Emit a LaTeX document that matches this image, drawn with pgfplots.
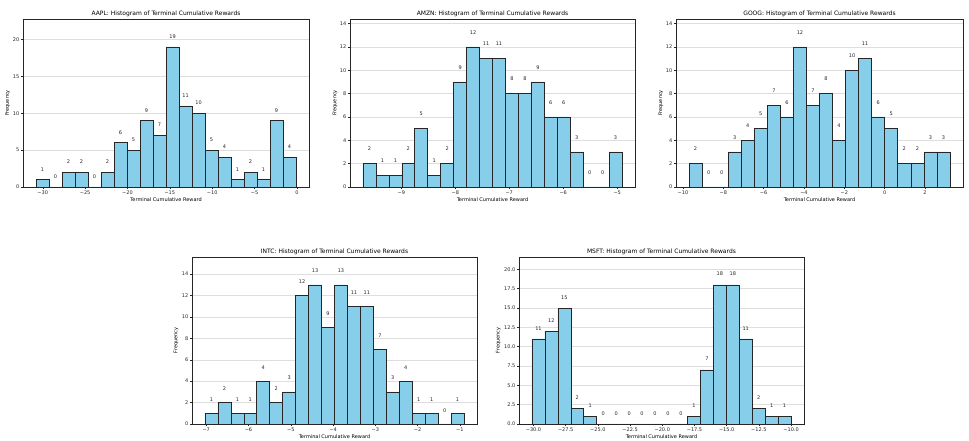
\documentclass[border=0pt]{standalone}
\usepackage{pgfplots}
\usepackage{pgfplotstable}
\pgfplotsset{compat=1.18}
\usepackage{fontspec}
\setmainfont{DejaVu Sans}
\definecolor{skyblue}{HTML}{87CEEB}

\pgfplotstableread{
x y
-30.800 1
-29.265 0
-27.730 2
-26.195 2
-24.660 0
-23.125 2
-21.590 6
-20.055 5
-18.520 9
-16.985 7
-15.450 19
-13.915 11
-12.380 10
-10.845 5
-9.310 4
-7.775 1
-6.240 2
-4.705 1
-3.170 9
-1.635 4
-0.100 4
}\aapl

\pgfplotstableread{
x y
-9.71 2
-9.47 1
-9.23 1
-8.99 2
-8.75 5
-8.51 1
-8.27 2
-8.03 9
-7.79 12
-7.55 11
-7.31 11
-7.07 8
-6.83 8
-6.59 9
-6.35 6
-6.11 6
-5.87 3
-5.63 0
-5.39 0
-5.15 3
-4.91 3
}\amzn

\pgfplotstableread{
x y
-9.700 2
-9.053 0
-8.406 0
-7.759 3
-7.112 4
-6.465 5
-5.818 7
-5.171 6
-4.524 12
-3.877 7
-3.230 8
-2.583 4
-1.936 10
-1.289 11
-0.642 6
0.005 5
0.652 2
1.299 2
1.946 3
2.593 3
3.240 3
}\goog

\pgfplotstableread{
x y
-7.0300 1
-6.7235 2
-6.4170 1
-6.1105 1
-5.8040 4
-5.4975 2
-5.1910 3
-4.8845 12
-4.5780 13
-4.2715 9
-3.9650 13
-3.6585 11
-3.3520 11
-3.0455 7
-2.7390 3
-2.4325 4
-2.1260 1
-1.8195 1
-1.5130 0
-1.2065 1
-0.9000 1
}\intc

\pgfplotstableread{
x y
-30.120 11
-29.114 12
-28.108 15
-27.102 2
-26.096 1
-25.090 0
-24.084 0
-23.078 0
-22.072 0
-21.066 0
-20.060 0
-19.054 0
-18.048 1
-17.042 7
-16.036 18
-15.030 18
-14.024 11
-13.018 2
-12.012 1
-11.006 1
-10.000 1
}\msft

\pgfplotsset{
  histo/.style={
    scale only axis, anchor=south west,
    axis line style={line width=0.4pt, black!85},
    tick style={line width=0.4pt, black!85},
    tick align=outside, major tick length=1.75pt,
    xtick pos=bottom, ytick pos=left,
    ymajorgrids, grid style={line width=0.5pt, black!13},
    ymin=0, clip=false,
    tick label style={font=\fontsize{5}{6}\selectfont, text=black!85},
    xticklabel style={anchor=north, inner sep=0pt, yshift=-1.75pt},
    yticklabel style={anchor=east, inner sep=0pt, xshift=-1.75pt},
    label style={font=\fontsize{5}{6}\selectfont},
    every axis title shift=0pt,
    title style={font=\fontsize{6}{7}\selectfont, at={([yshift=3pt]axis description cs:0.5,1)}, anchor=base},
    xlabel style={at={([yshift=-15pt]axis description cs:0.5,0)}, anchor=base},
    xlabel={Terminal Cumulative Reward},
    ylabel={Frequency},
  },
  bars/.style={ybar interval, fill=skyblue, draw=black!85, line width=0.6pt},
  labs/.style={only marks, mark=*, mark size=0pt, mark options={draw=none, fill=none},
    nodes near coords, point meta=explicit symbolic,
    skip coords between index={20}{21},
    nodes near coords style={anchor=base, inner sep=0pt, yshift=1.2pt, text=black!85, font=\fontsize{5}{6}\selectfont}},
}

\begin{document}
\begin{tikzpicture}
\path[use as bounding box] (0,0) rectangle (969pt,441pt);

% AAPL
\begin{axis}[histo, at={(23pt,254pt)}, width=286pt, height=168pt,
  title={AAPL: Histogram of Terminal Cumulative Rewards},
  ylabel style={at={([xshift=-15.5pt]axis description cs:0,0.5)}, anchor=center},
  xmin=-32.335, xmax=1.435, ymax=22.8,
  xtick={-30,-25,-20,-15,-10,-5,0},
  xticklabels={−30,−25,−20,−15,−10,−5,0},
  ytick={0,5,10,15,20}, yticklabels={0,5,10,15,20}]
\addplot[bars] table {\aapl};
\addplot[labs] table[x expr=\thisrow{x}+0.7675, y expr=\thisrow{y}+1, meta=y] {\aapl};
\end{axis}

% AMZN
\begin{axis}[histo, at={(350pt,254pt)}, width=285pt, height=168pt,
  title={AMZN: Histogram of Terminal Cumulative Rewards},
  ylabel style={at={([xshift=-15pt]axis description cs:0,0.5)}, anchor=center},
  xmin=-9.95, xmax=-4.67, ymax=14.4,
  xtick={-9,-8,-7,-6,-5},
  xticklabels={−9,−8,−7,−6,−5},
  ytick={0,2,4,6,8,10,12,14}, yticklabels={0,2,4,6,8,10,12,14}]
\addplot[bars] table {\amzn};
\addplot[labs] table[x expr=\thisrow{x}+0.12, y expr=\thisrow{y}+1, meta=y] {\amzn};
\end{axis}

% GOOG
\begin{axis}[histo, at={(676pt,254pt)}, width=287pt, height=168pt,
  title={GOOG: Histogram of Terminal Cumulative Rewards},
  ylabel style={at={([xshift=-15.3pt]axis description cs:0,0.5)}, anchor=center},
  xmin=-10.347, xmax=3.887, ymax=14.4,
  xtick={-10,-8,-6,-4,-2,0,2},
  xticklabels={−10,−8,−6,−4,−2,0,2},
  ytick={0,2,4,6,8,10,12,14}, yticklabels={0,2,4,6,8,10,12,14}]
\addplot[bars] table {\goog};
\addplot[labs] table[x expr=\thisrow{x}+0.3235, y expr=\thisrow{y}+1, meta=y] {\goog};
\end{axis}

% INTC
\begin{axis}[histo, at={(192pt,17pt)}, width=285pt, height=167pt,
  title={INTC: Histogram of Terminal Cumulative Rewards},
  ylabel style={at={([xshift=-16pt]axis description cs:0,0.5)}, anchor=center},
  xmin=-7.3365, xmax=-0.5935, ymax=15.6,
  xtick={-7,-6,-5,-4,-3,-2,-1},
  xticklabels={−7,−6,−5,−4,−3,−2,−1},
  ytick={0,2,4,6,8,10,12,14}, yticklabels={0,2,4,6,8,10,12,14}]
\addplot[bars] table {\intc};
\addplot[labs] table[x expr=\thisrow{x}+0.15325, y expr=\thisrow{y}+1, meta=y] {\intc};
\end{axis}

% MSFT
\begin{axis}[histo, at={(519pt,17pt)}, width=285pt, height=167pt,
  title={MSFT: Histogram of Terminal Cumulative Rewards},
  ylabel style={at={([xshift=-20.7pt]axis description cs:0,0.5)}, anchor=center},
  xmin=-31.126, xmax=-8.994, ymax=21.6,
  xtick={-30,-27.5,-25,-22.5,-20,-17.5,-15,-12.5,-10},
  xticklabels={−30.0,−27.5,−25.0,−22.5,−20.0,−17.5,−15.0,−12.5,−10.0},
  ytick={0,2.5,5,7.5,10,12.5,15,17.5,20},
  yticklabels={0.0,2.5,5.0,7.5,10.0,12.5,15.0,17.5,20.0}]
\addplot[bars] table {\msft};
\addplot[labs] table[x expr=\thisrow{x}+0.503, y expr=\thisrow{y}+1, meta=y] {\msft};
\end{axis}
\end{tikzpicture}
\end{document}
